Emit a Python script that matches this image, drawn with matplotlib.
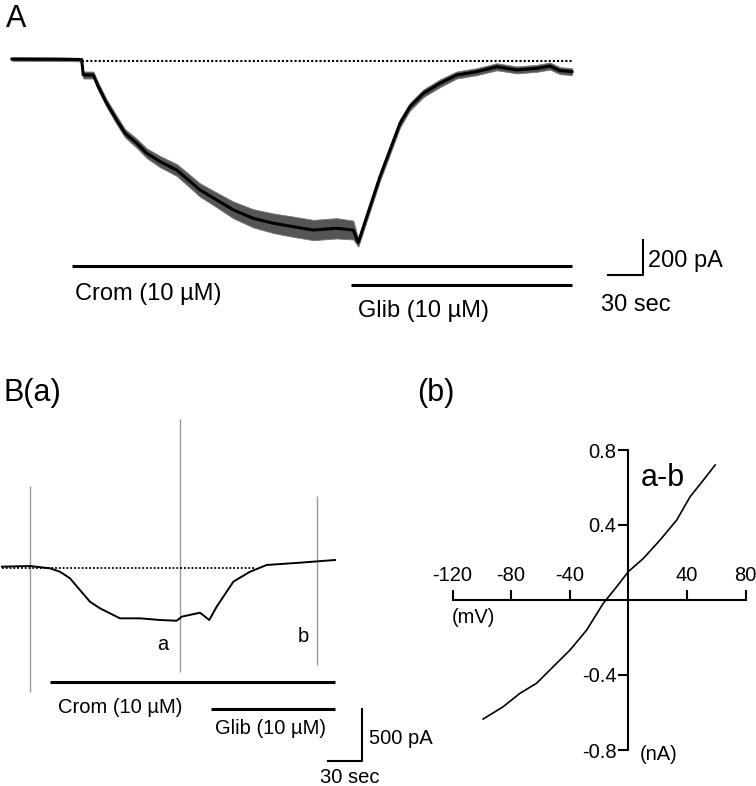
import matplotlib
matplotlib.use('Agg')
import matplotlib.pyplot as plt

plt.rcParams['font.family'] = ['Liberation Sans', 'DejaVu Sans']
plt.rcParams['axes.unicode_minus'] = False

W, H = 756, 786

# ---- Panel A: current trace (sec, pA)
a_t = [0, 41, 59.7, 61.1, 69.7, 74, 81.2, 89.7, 96.9, 106.9, 115.5, 126.9, 141.2, 149.7,
       161.1, 175.5, 189.7, 206.8, 224, 241.1, 258.3, 278.3, 292.5, 296.8, 306.9, 315.4,
       324, 332.6, 341.1, 352.5, 366.9, 381.2, 398.3, 415.5, 432.6, 449.7, 461.1, 469.7, 480]
a_i = [11, 10, 8, -80, -80, -147, -242, -337, -413, -470, -527, -575, -623, -671,
       -737, -794, -851, -899, -927, -947, -966, -956, -966, -1037, -833, -661,
       -509, -356, -261, -185, -127, -80, -61, -33, -51, -42, -29, -55, -61]
# half width of the noise band (pA)
a_noise = [10, 10, 10, 20, 20, 22, 22, 24, 24, 26, 28, 32, 34, 36,
           38, 42, 48, 52, 56, 58, 58, 58, 54, 24, 24, 24,
           24, 24, 22, 22, 22, 20, 20, 20, 20, 20, 20, 20, 20]
a_crom = [51, 480]
a_glib = [291, 480]

# ---- Panel B(a): current trace (sec, pA)
b_t = [0, 24.7, 42.4, 51.2, 60, 68.8, 77.6, 86.5, 95.3, 104.1, 121.8, 139.4, 154.1, 158.6,
       174.7, 182.9, 189.4, 204.1, 218.8, 233.6, 262.9, 293.8]
b_i = [13, 19, -3, -36, -99, -212, -324, -388, -436, -484, -484, -500, -507, -468,
       -430, -500, -372, -132, -36, 29, 51, 77]
ramp_t = [24.7, 156.8, 278.2]
ramp_top = [788, 1433, 692]
ramp_bot = [-1192, -1000, -933]
b_crom = [42, 294]
b_glib = [184, 294]

# ---- Panel B(b): I-V relation a-b (mV, nA)
iv_v = [-99.1, -85.4, -74.0, -62.6, -51.3, -39.8, -28.4, -17.1, -7.9, 0, 10.3, 21.7,
        33.1, 42.2, 51.3, 59.3]
iv_i = [-0.635, -0.569, -0.498, -0.444, -0.356, -0.267, -0.160, -0.018, 0.071, 0.151,
        0.222, 0.320, 0.427, 0.551, 0.640, 0.720]


fig = plt.figure(figsize=(W / 100, H / 100), dpi=100)


def panel(box, xref, sx, yref, sy):
    # box in picture pixels (left, top, right, bottom); ref = (pixel, value)
    l, t, r, b = box
    ax = fig.add_axes([l / W, 1 - b / H, (r - l) / W, (b - t) / H])
    ax.set_xlim(xref[1] + (l - xref[0]) / sx, xref[1] + (r - xref[0]) / sx)
    ax.set_ylim(yref[1] - (b - yref[0]) / sy, yref[1] - (t - yref[0]) / sy)
    ax.patch.set_alpha(0)
    return ax


def txt(x, y, s, size=17, **kw):
    fig.text(x / W, 1 - y / H, s, fontsize=size, va='baseline', **kw)


# ---------------- A
axA = panel((0, 30, 756, 345), (12, 0), 35 / 30, (61, 0), 35 / 200)
axA.axis('off')
lo = [i - n for i, n in zip(a_i, a_noise)]
hi = [i + n for i, n in zip(a_i, a_noise)]
axA.fill_between(a_t, lo, hi, color='#555555', lw=0.6, ec='#777777')
axA.plot(a_t, a_i, color='black', lw=2.2)
axA.plot([60, 480], [0, 0], color='black', lw=1.5, ls=(0, (1, 1)))
axA.plot(a_crom, [-1171, -1171], color='black', lw=2.2, solid_capstyle='butt')
axA.plot(a_glib, [-1280, -1280], color='black', lw=2.2, solid_capstyle='butt')
# scale bar 30 sec / 200 pA
axA.plot([511, 541, 541], [-1223, -1223, -1023], color='black', lw=1.5)

txt(6, 27, 'A', 22)
txt(75, 300, 'Crom (10 µM)')
txt(358, 317, 'Glib (10 µM)')
txt(648, 267, '200 pA')
txt(601, 311, '30 sec')

# ---------------- B(a)
axB = panel((0, 405, 400, 786), (2, 0), 34 / 30, (568, 0), 52 / 500)
axB.axis('off')
axB.vlines(ramp_t, ramp_bot, ramp_top, color='#9a9a9a', lw=1)
axB.plot(b_t, b_i, color='black', lw=1.4)
axB.plot([0, 222], [0, 0], color='black', lw=1.3, ls=(0, (1, 1.1)))
axB.plot(b_crom, [-1096, -1096], color='black', lw=2.2, solid_capstyle='butt')
axB.plot(b_glib, [-1356, -1356], color='black', lw=2.2, solid_capstyle='butt')
# scale bar 30 sec / 500 pA
axB.plot([288, 318, 318], [-1856, -1856, -1356], color='black', lw=1.5)

txt(3, 401, 'B(a)', 22)
txt(157, 650, 'a', 14.5)
txt(298, 642, 'b', 14.5)
txt(58, 713, 'Crom (10 µM)', 14.5)
txt(215, 734, 'Glib (10 µM)', 14.5)
txt(369, 744, '500 pA', 14.5)
txt(320, 783, '30 sec', 14.5)

# ---------------- B(b)
axC = panel((430, 420, 756, 786), (628.3, 0), 58.6 / 40, (600, 0), 187.5)
for s in ['right', 'bottom']:
    axC.spines[s].set_visible(False)
axC.spines['left'].set_position(('data', 0))
axC.spines['top'].set_position(('data', 0))
axC.spines['left'].set_bounds(-0.8, 0.8)
axC.spines['top'].set_bounds(-120, 80)
for s in ['left', 'top']:
    axC.spines[s].set_linewidth(1.5)
axC.xaxis.tick_top()
axC.set_xticks([-120, -80, -40, 40, 80])
axC.set_xticklabels(['-120', '-80', '-40', '40', '80'])
axC.set_yticks([-0.8, -0.4, 0.4, 0.8])
axC.set_yticklabels(['-0.8', '-0.4', '0.4', '0.8'])
axC.tick_params(direction='out', length=7, width=1.5, labelsize=14.5)
axC.tick_params(axis='x', pad=4)
axC.tick_params(axis='y', pad=1.5)
axC.plot(iv_v, iv_i, color='black', lw=1.2)

txt(417, 401, '(b)', 22)
txt(641, 486, 'a-b', 22)
txt(452, 623, '(mV)', 14.5)
txt(640, 760, '(nA)', 14.5)

fig.savefig('out.png', dpi=100)
